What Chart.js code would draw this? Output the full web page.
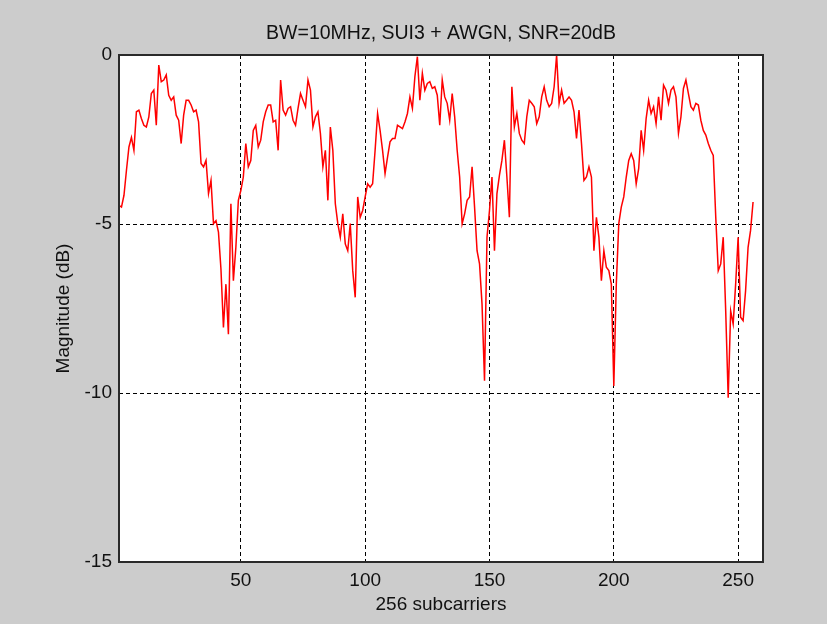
<!DOCTYPE html>
<html>
<head>
<meta charset="utf-8">
<title>Channel magnitude</title>
<script src="https://cdn.jsdelivr.net/npm/chart.js@4.4.0/dist/chart.umd.min.js"></script>
<style>
  html, body { margin: 0; padding: 0; background: #cccccc; }
  canvas { display: block; }
</style>
</head>
<body>
<canvas id="myChart" width="827" height="624"></canvas>
<script>
// data (dB per subcarrier, 1..256)
const magnitudeDb = [
  -4.45, -4.50, -4.15, -3.41, -2.72, -2.44, -2.82, -1.68, -1.63, -1.88,
  -2.08, -2.13, -1.83, -1.14, -1.04, -2.08, -0.30, -0.79, -0.74, -0.59,
  -1.19, -1.34, -1.24, -1.78, -1.93, -2.62, -1.78, -1.34, -1.34, -1.48,
  -1.68, -1.63, -1.98, -3.21, -3.31, -3.12, -4.10, -3.71, -4.99, -4.90,
  -5.24, -6.33, -8.06, -6.78, -8.26, -4.40, -6.68, -5.69, -4.30, -4.01,
  -3.61, -2.62, -3.31, -3.12, -2.23, -2.08, -2.72, -2.52, -1.98, -1.68,
  -1.48, -1.48, -1.98, -1.93, -2.82, -0.74, -1.63, -1.78, -1.58, -1.53,
  -1.93, -2.08, -1.58, -1.14, -1.34, -1.53, -0.74, -1.04, -2.13, -1.83,
  -1.68, -2.32, -3.31, -2.82, -4.30, -2.13, -2.82, -4.40, -4.99, -5.39,
  -4.70, -5.59, -5.79, -4.99, -6.38, -7.17, -4.20, -4.80, -4.60, -4.20,
  -3.81, -3.91, -3.81, -2.82, -1.73, -2.23, -2.82, -3.51, -3.02, -2.57,
  -2.47, -2.47, -2.08, -2.13, -2.18, -1.98, -1.73, -1.24, -1.58, -0.64,
  -0.05, -1.34, -0.54, -1.04, -0.84, -0.79, -0.99, -0.94, -1.19, -2.08,
  -0.74, -1.24, -1.43, -1.93, -1.14, -1.83, -2.82, -3.61, -4.99, -4.70,
  -4.30, -4.20, -3.31, -4.50, -5.79, -6.18, -7.37, -9.64, -5.39, -4.60,
  -3.61, -5.79, -4.10, -3.56, -3.12, -2.52, -3.61, -4.80, -0.94, -2.13,
  -1.73, -2.32, -2.52, -2.62, -1.83, -1.34, -1.43, -1.53, -2.03, -1.83,
  -1.24, -0.94, -1.34, -1.53, -1.43, -0.94, 0.00, -1.43, -1.04, -1.43,
  -1.34, -1.24, -1.34, -1.68, -2.47, -1.63, -2.62, -3.71, -3.61, -3.31,
  -3.61, -5.79, -4.80, -5.39, -6.68, -5.79, -6.28, -6.38, -6.78, -9.79,
  -6.78, -4.99, -4.50, -4.20, -3.61, -3.12, -2.92, -3.12, -3.81, -3.36,
  -2.23, -2.82, -1.88, -1.34, -1.73, -1.53, -2.03, -1.24, -1.93, -0.89,
  -1.04, -1.43, -1.04, -0.94, -1.24, -2.32, -1.83, -0.99, -0.74, -1.14,
  -1.53, -1.63, -1.43, -1.48, -1.93, -2.23, -2.37, -2.62, -2.82, -2.97,
  -4.80, -6.38, -6.18, -5.39, -7.57, -10.14, -7.57, -7.96, -6.78, -5.39,
  -7.76, -7.86, -6.97, -5.69, -5.19, -4.35,
];

// subcarrier number for every sample
const subcarriers = magnitudeDb.map((v, i) => i + 1);

const xTicks = [50, 100, 150, 200, 250];
const yTicks = [-15, -10, -5, 0];

const chartTitle = "BW=10MHz, SUI3 + AWGN, SNR=20dB";
const xLabel = "256 subcarriers";
const yLabel = "Magnitude (dB)";

const fontFamily = "'Liberation Sans', Arial, Helvetica, sans-serif";

// gray figure + white axes box, like matlab
const figureBackground = {
  id: "figureBackground",
  beforeDraw(chart) {
    const c = chart.ctx;
    const a = chart.chartArea;
    c.save();
    c.fillStyle = "#cccccc";
    c.fillRect(0, 0, chart.width, chart.height);
    c.fillStyle = "#ffffff";
    c.fillRect(a.left, a.top, a.right - a.left, a.bottom - a.top);
    c.restore();
  },
  afterDraw(chart) {
    const c = chart.ctx;
    const a = chart.chartArea;
    c.save();
    c.strokeStyle = "#2a2a2a";
    c.lineWidth = 2;
    c.strokeRect(a.left, a.top, a.right - a.left, a.bottom - a.top);
    c.restore();
  },
};

const ctx = document.getElementById("myChart").getContext("2d");

new Chart(ctx, {
  type: "line",
  data: {
    datasets: [
      {
        label: "magnitude",
        data: subcarriers.map((x, i) => ({ x: x, y: magnitudeDb[i] })),
        borderColor: "#ff0000",
        borderWidth: 1.5,
        pointRadius: 0,
        tension: 0,
        fill: false,
      },
    ],
  },
  options: {
    responsive: false,
    animation: false,
    devicePixelRatio: 1,
    layout: {
      padding: { left: 0, right: 64, top: 0, bottom: 0 },
    },
    plugins: {
      legend: { display: false },
      tooltip: { enabled: false },
      title: {
        display: true,
        text: chartTitle,
        fullSize: false,
        color: "#111111",
        font: { family: fontFamily, size: 19.5, weight: "normal" },
        padding: { top: 22.3, bottom: 9.3 },
      },
    },
    scales: {
      x: {
        type: "linear",
        min: 1,
        max: 260,
        afterBuildTicks: (scale) => {
          scale.ticks = xTicks.map((v) => ({ value: v }));
        },
        afterFit: (scale) => {
          scale.height = 62;
        },
        grid: {
          color: "#000000",
          lineWidth: 1,
          drawTicks: false,
        },
        border: { display: false, dash: [4, 3] },
        ticks: {
          color: "#111111",
          padding: 7,
          maxRotation: 0,
          font: { family: fontFamily, size: 19 },
        },
        title: {
          display: true,
          text: xLabel,
          color: "#111111",
          padding: { top: 0, bottom: 7.6 },
          font: { family: fontFamily, size: 19 },
        },
      },
      y: {
        min: -15,
        max: 0,
        afterBuildTicks: (scale) => {
          scale.ticks = yTicks.map((v) => ({ value: v }));
        },
        afterFit: (scale) => {
          scale.width = 119;
        },
        grid: {
          color: "#000000",
          lineWidth: 1,
          drawTicks: false,
        },
        border: { display: false, dash: [4, 3] },
        ticks: {
          color: "#111111",
          padding: 7,
          font: { family: fontFamily, size: 19 },
        },
        title: {
          display: true,
          text: yLabel,
          color: "#111111",
          padding: { top: 52, bottom: 0 },
          font: { family: fontFamily, size: 19 },
        },
      },
    },
  },
  plugins: [figureBackground],
});
</script>
</body>
</html>
